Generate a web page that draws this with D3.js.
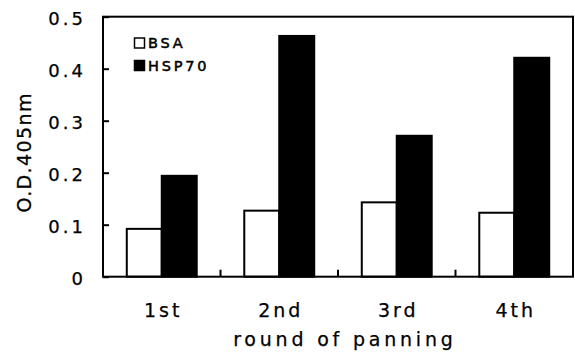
<!DOCTYPE html>
<html><head><meta charset="utf-8">
<script src="https://cdn.jsdelivr.net/npm/d3@7"></script>
<style>body{margin:0;background:#fff}svg{display:block}text{font-family:"DejaVu Sans",sans-serif;fill:#000;stroke:#000;stroke-width:0.25}</style>
</head><body>
<svg id="c" width="575" height="353"></svg>
<script>
const categories = ["1st", "2nd", "3rd", "4th"];
const seriesNames = ["BSA", "HSP70"];
const bsaValues = [0.092, 0.127, 0.143, 0.123];
const hspValues = [0.194, 0.463, 0.271, 0.421];
const yTicks = [0, 0.1, 0.2, 0.3, 0.4, 0.5];
const yTickLabels = ["0", "0.1", "0.2", "0.3", "0.4", "0.5"];
const fills = ["#fff", "#000"];

const svg = d3.select("#c");
const L = 103, R = 573, T = 16.7, B = 276.7;
const x0 = d3.scaleBand().domain(categories).range([L, R]).paddingInner(0).paddingOuter(0);
const x1 = d3.scaleBand().domain(seriesNames).range([0, x0.bandwidth()]).paddingInner(0).paddingOuter(0.68);
const y = d3.scaleLinear().domain([0, 0.5]).range([B, T]);

const data = categories.map((c, i) => ({cat: c, vals: [bsaValues[i], hspValues[i]]}));

// bars
const g = svg.append("g");
data.forEach(d => {
  seriesNames.forEach((s, j) => {
    g.append("rect")
      .attr("x", x0(d.cat) + x1(s))
      .attr("y", y(d.vals[j]))
      .attr("width", x1.bandwidth())
      .attr("height", y(0) - y(d.vals[j]))
      .attr("fill", fills[j])
      .attr("stroke", "#000")
      .attr("stroke-width", 2);
  });
});

// frame
svg.append("rect").attr("x", L).attr("y", T).attr("width", R - L).attr("height", B - T)
  .attr("fill", "none").attr("stroke", "#000").attr("stroke-width", 2);

// y axis ticks inward
const yAxis = d3.axisRight(y).tickValues(yTicks).tickSize(6).tickFormat("");
const ya = svg.append("g").attr("transform", `translate(${L},0)`).call(yAxis);
ya.select(".domain").remove();
ya.selectAll("line").attr("stroke", "#000").attr("stroke-width", 2);

// y tick labels
svg.append("g").selectAll("text").data(yTicks).join("text")
  .attr("x", 86).attr("y", d => y(d) + 3)
  .attr("text-anchor", "end").attr("dominant-baseline", "middle")
  .attr("font-size", 18).attr("letter-spacing", 3)
  .text((d, i) => yTickLabels[i]);

// x ticks at band boundaries, pointing up
const bounds = categories.slice(1).map(c => x0(c));
svg.append("g").selectAll("line").data(bounds).join("line")
  .attr("x1", d => d).attr("x2", d => d).attr("y1", B).attr("y2", B - 7)
  .attr("stroke", "#000").attr("stroke-width", 2);

// x labels
svg.append("g").selectAll("text").data(categories).join("text")
  .attr("x", d => x0(d) + x0.bandwidth() / 2 + 1.5)
  .attr("y", 317).attr("text-anchor", "middle")
  .attr("font-size", 19).attr("letter-spacing", 3)
  .text(d => d);

// x title
svg.append("text").attr("x", 343 + 1.9).attr("y", 346).attr("text-anchor", "middle")
  .attr("font-size", 19).attr("letter-spacing", 3.8).text("round of panning");

// y title
svg.append("text").attr("transform", "translate(31,153) rotate(-90)")
  .attr("text-anchor", "middle").attr("font-size", 19).attr("letter-spacing", 1.4)
  .attr("dx", 0.7).text("O.D.405nm");

// legend
const leg = svg.append("g");
seriesNames.forEach((s, j) => {
  const yy = 38 + j * 22.5;
  leg.append("rect").attr("x", 134.5).attr("y", yy).attr("width", 10).attr("height", 10)
    .attr("fill", fills[j]).attr("stroke", "#000").attr("stroke-width", 1.5);
  leg.append("text").attr("x", 148).attr("y", yy + 10).attr("font-size", 14.5)
    .attr("letter-spacing", 2.8).style("stroke-width", 0.5).text(s);
});
</script>
</body></html>
